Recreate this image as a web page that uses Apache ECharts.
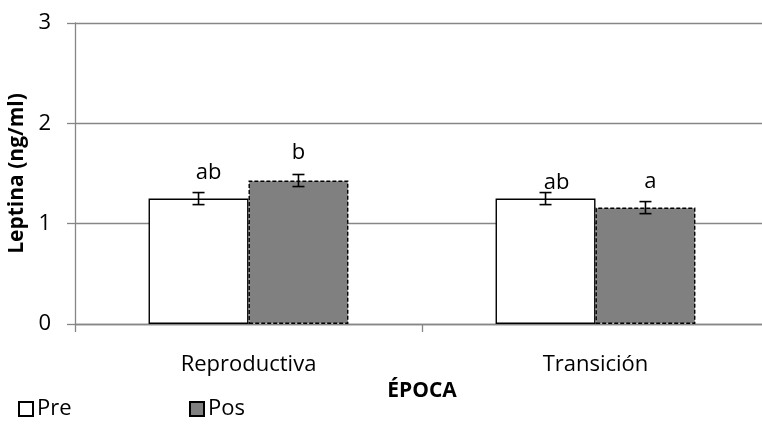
<!DOCTYPE html>
<html>
<head>
<meta charset="utf-8">
<script src="https://cdn.jsdelivr.net/npm/echarts@6/dist/echarts.min.js"></script>
<style>
  html, body { margin: 0; padding: 0; background: #fff; }
  #chart { width: 762px; height: 428px; }
</style>
</head>
<body>
<div id="chart"></div>
<script>
// Leptina plasmática por época (Pre / Pos)
const categories = ['Reproductiva', 'Transición'];
const preValues = [1.25, 1.25];
const posValues = [1.43, 1.16];
const preErrors = [0.06, 0.06];
const posErrors = [0.06, 0.06];
const preLetters = ['ab', 'ab'];
const posLetters = ['b', 'a'];
const yTicks = [0, 1, 2, 3];

// Layout / style settings
const FONT = '"Open Sans", "Noto Sans", sans-serif';
const AXIS_GRAY = '#868686';
const CAT_GAP = 0.424;               // barCategoryGap fraction
// letter placement relative to the top of each error bar: [dx, lift]
const preLetterPos = [[10, 14], [11, 4]];
const posLetterPos = [[0, 16], [5, 14]];

const chart = echarts.init(document.getElementById('chart'), null, { renderer: 'canvas' });

function errorSeries(name, values, errors, letters, letterPos, side) {
  const data = values.map((v, i) => [i, v, errors[i], letters[i], letterPos[i][0], letterPos[i][1]]);
  return {
    type: 'custom',
    name: name,
    z: 5,
    silent: true,
    clip: false,
    data: data,
    encode: { x: 0, y: 1 },
    renderItem: function (params, api) {
      const idx = api.value(0);
      const val = api.value(1);
      const err = api.value(2);
      const bandW = api.size([1, 0])[0];
      const barW = bandW * (1 - CAT_GAP) / 2;
      const base = api.coord([idx, val]);
      const x = base[0] + side * barW / 2;
      const hi = api.coord([idx, val + err])[1];
      const lo = api.coord([idx, val - err])[1];
      const cap = 6;
      const lineStyle = { stroke: '#000', lineWidth: 1.6 };
      const d = data[params.dataIndex];
      return {
        type: 'group',
        children: [
          { type: 'line', shape: { x1: x, y1: hi, x2: x, y2: lo }, style: lineStyle },
          { type: 'line', shape: { x1: x - cap, y1: hi, x2: x + cap, y2: hi }, style: lineStyle },
          { type: 'line', shape: { x1: x - cap, y1: lo, x2: x + cap, y2: lo }, style: lineStyle },
          {
            type: 'text',
            style: {
              text: d[3],
              x: x + d[4],
              y: hi - d[5] + 5,
              align: 'center',
              verticalAlign: 'bottom',
              fontFamily: FONT,
              fontSize: 22,
              fill: '#000'
            }
          }
        ]
      };
    }
  };
}

const legendBase = {
  top: 398, padding: 0, itemWidth: 14, itemHeight: 14, itemGap: 4, icon: 'rect',
  textStyle: { fontFamily: FONT, fontSize: 22, color: '#000', padding: [0, 0, 0, -1] },
  selectedMode: false
};

const option = {
  animation: false,
  backgroundColor: '#fff',
  textStyle: { fontFamily: FONT },
  // plot area runs slightly past the right edge of the canvas
  grid: { left: 75, width: 694, top: 23, height: 301, containLabel: false, outerBoundsMode: 'none' },
  legend: [
    Object.assign({ data: ['Pre'], left: 18 }, legendBase),
    Object.assign({ data: ['Pos'], left: 189 }, legendBase)
  ],
  xAxis: {
    type: 'category',
    data: categories,
    name: 'ÉPOCA',
    nameLocation: 'middle',
    nameGap: 49,
    nameTextStyle: { fontFamily: FONT, fontSize: 21, fontWeight: 'bold', color: '#000' },
    axisLine: { show: true, lineStyle: { color: AXIS_GRAY, width: 1.3 } },
    axisTick: { show: true, alignWithLabel: false, interval: 0, length: 8, lineStyle: { color: AXIS_GRAY, width: 1.3 } },
    axisLabel: { fontFamily: FONT, fontSize: 22, color: '#000', margin: 30 },
    splitLine: { show: false }
  },
  yAxis: {
    type: 'value',
    min: yTicks[0],
    max: yTicks[yTicks.length - 1],
    interval: 1,
    name: 'Leptina (ng/ml)',
    nameLocation: 'middle',
    nameGap: 44,
    nameTextStyle: { fontFamily: FONT, fontSize: 21, fontWeight: 'bold', color: '#000' },
    axisLine: { show: true, lineStyle: { color: AXIS_GRAY, width: 1.3 } },
    axisTick: { show: true, inside: false, length: 8, lineStyle: { color: AXIS_GRAY, width: 1.3 } },
    axisLabel: { fontFamily: FONT, fontSize: 22, color: '#000', margin: 24 },
    splitLine: { show: true, lineStyle: { color: AXIS_GRAY, width: 1.3 } }
  },
  series: [
    {
      name: 'Pre',
      type: 'bar',
      data: preValues,
      barGap: '0%',
      barCategoryGap: (CAT_GAP * 100) + '%',
      itemStyle: { color: '#ffffff', borderColor: '#000', borderWidth: 1.4 },
      z: 2
    },
    {
      name: 'Pos',
      type: 'bar',
      data: posValues,
      barGap: '0%',
      barCategoryGap: (CAT_GAP * 100) + '%',
      itemStyle: { color: '#808080', borderColor: '#000', borderWidth: 1.4, borderType: [4, 2] },
      z: 2
    },
    errorSeries('err-pre', preValues, preErrors, preLetters, preLetterPos, -1),
    errorSeries('err-pos', posValues, posErrors, posLetters, posLetterPos, 1)
  ]
};

chart.setOption(option);
</script>
</body>
</html>
